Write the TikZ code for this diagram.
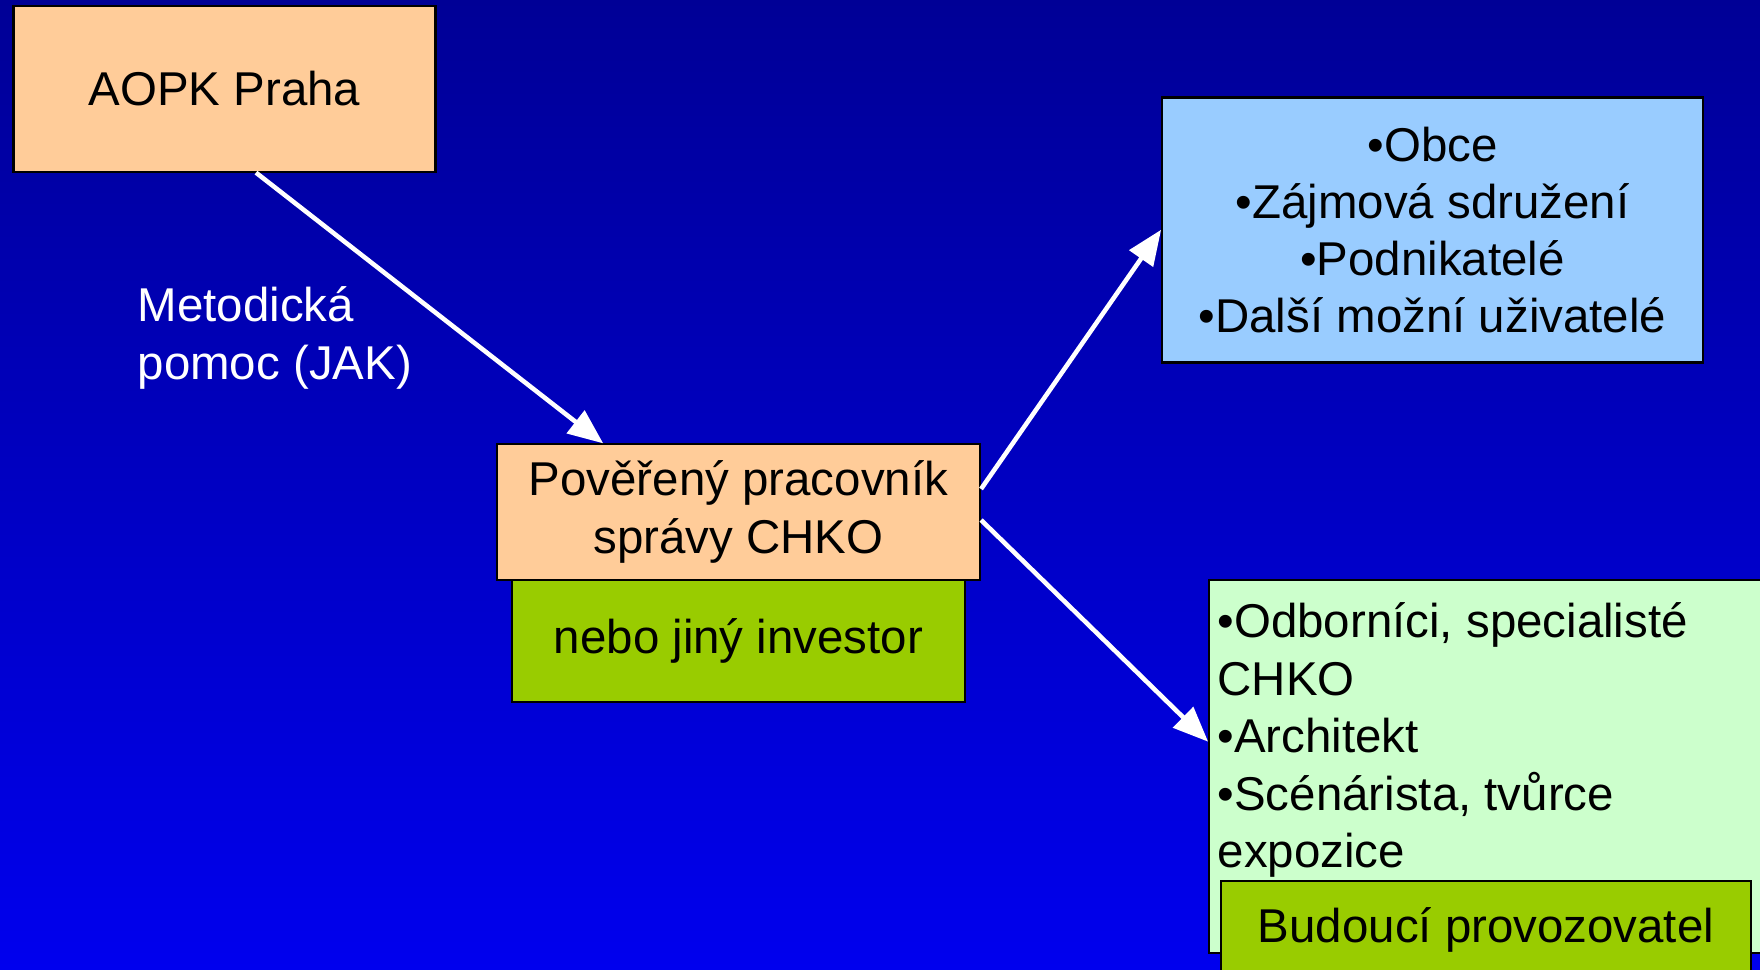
\documentclass[tikz,border=0pt]{standalone}
\usepackage{fontspec}
\setmainfont{Liberation Sans}
\usetikzlibrary{calc}
\usetikzlibrary{arrows}

\definecolor{pozadihore}{RGB}{0,0,150}
\definecolor{pozadidole}{RGB}{0,0,238}
\definecolor{broskev}{RGB}{255,204,153}
\definecolor{modra}{RGB}{153,204,255}
\definecolor{zelena}{RGB}{204,255,204}
\definecolor{olivova}{RGB}{153,204,0}

\tikzset{
    ramec/.style={draw=black, line width=0.6pt, inner sep=0pt, align=center,
        font=\fontsize{13.5}{16.3}\selectfont},
    popis/.style={inner sep=0pt, align=left, font=\fontsize{13.5}{16.4}\selectfont},
    sipka/.style={draw=white, line width=1.3pt, -triangle 45},
}

\begin{document}
\begin{tikzpicture}
    % pozadi
    \useasboundingbox (0,0) rectangle (17.6,9.69);
    \shade[top color=pozadihore, bottom color=pozadidole] (0,0) rectangle (17.6,9.69);

    % ramecky
    \node[ramec, fill=broskev, minimum width=4.22cm, minimum height=1.66cm] (aopk) at (2.245,8.804) {AOPK Praha};
    \node[ramec, fill=modra, minimum width=5.41cm, minimum height=2.65cm] (uziv) at (14.325,7.39)
        {•Obce\\•Zájmová sdružení\\•Podnikatelé\\•Další možní uživatelé};
    \node[ramec, fill=olivova, minimum width=4.53cm, minimum height=1.215cm] (investor) at (7.385,3.28) {nebo jiný investor};
    \node[ramec, fill=broskev, minimum width=4.83cm, minimum height=1.355cm] (pov) at (7.385,4.57)
        {Pověřený pracovník\\správy CHKO};
    \node[ramec, fill=zelena, minimum width=5.81cm, minimum height=3.73cm] (odb) at (14.995,2.025) {};
    \node[popis, anchor=base west] (odbtext) at ($(odb.north west)+(0.09,-2.89)$)
        {•Odborníci, specialisté\\CHKO\\•Architekt\\•Scénárista, tvůrce\\expozice};
    \node[ramec, fill=olivova, minimum width=5.30cm, minimum height=0.98cm] (provoz) at (14.86,0.39) {Budoucí provozovatel};

    % popisek
    \node[popis, text=white, anchor=base west] (metod) at (1.37,5.90) {Metodická\\pomoc (JAK)};

    % sipky
    \draw[sipka] ($(aopk.south)+(0.315,0)$) -- ($(pov.north)+(-1.355,0)$);
    \draw[sipka] ($(pov.east)+(0,0.23)$) -- (uziv.west);
    \draw[sipka] ($(pov.east)+(0,-0.08)$) -- ($(odb.west)+(0,0.25)$);
\end{tikzpicture}
\end{document}
